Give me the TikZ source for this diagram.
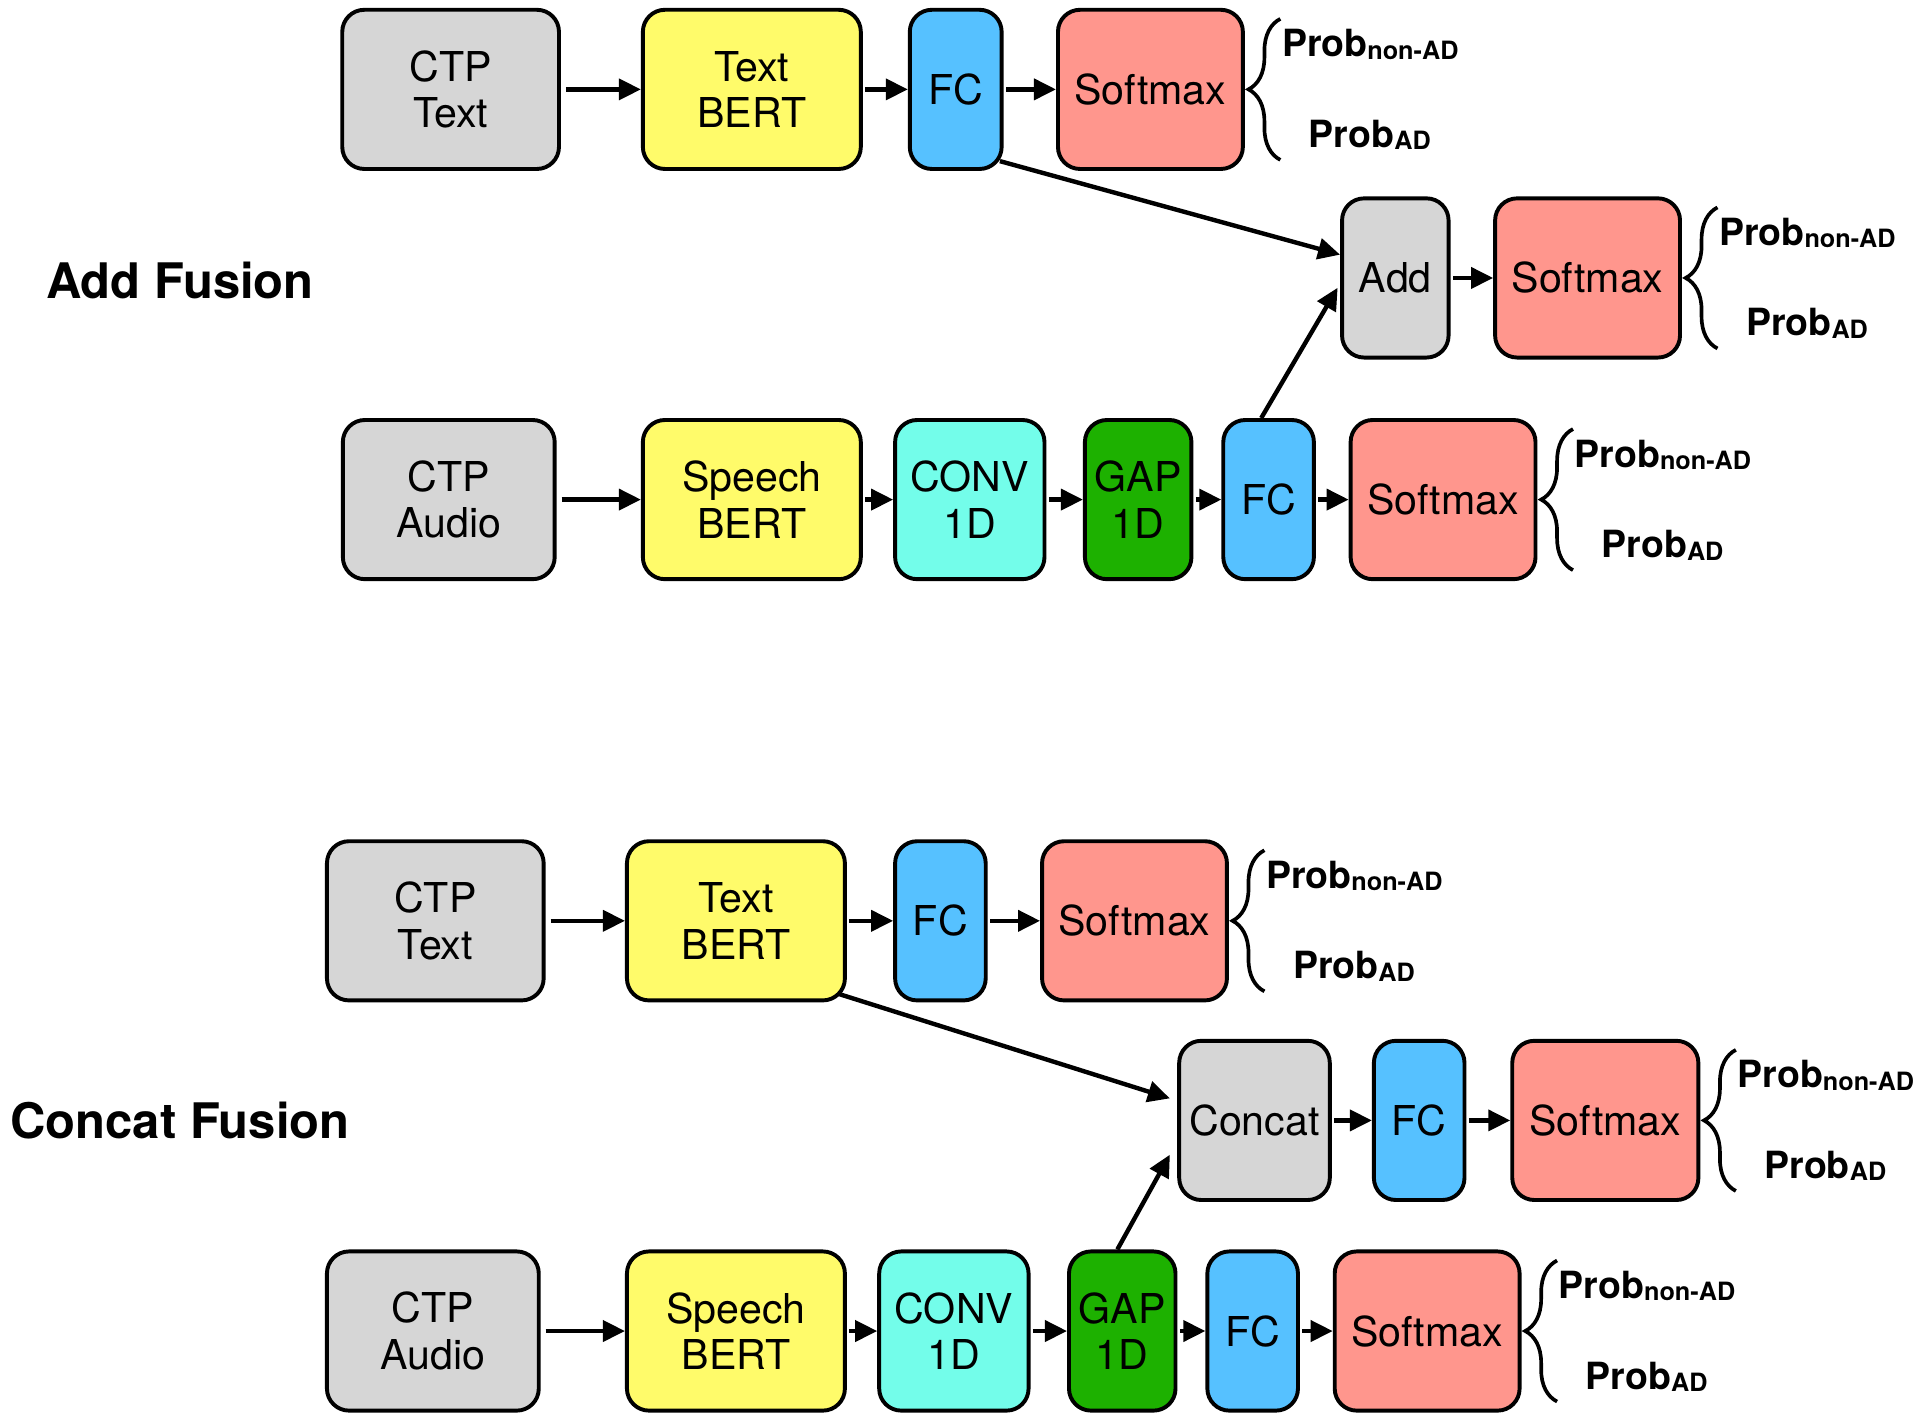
\documentclass[tikz,border=0pt]{standalone}
\usepackage{fontspec}
\setmainfont{TeX Gyre Heros}
\usetikzlibrary{arrows.meta,calc,decorations.pathreplacing}
\definecolor{cgray}{HTML}{D6D6D6}
\definecolor{cyel}{HTML}{FFFB6A}
\definecolor{cblue}{HTML}{56C1FF}
\definecolor{csoft}{HTML}{FF968D}
\definecolor{ccyan}{HTML}{73FDEA}
\definecolor{cgreen}{HTML}{1DB100}
\newcommand\probs[2]{%
  \draw[line width=1.5pt, decorate, decoration={brace, amplitude=13pt}]
    ($(#1.south east)+(29,-9)$) -- ($(#1.north east)+(29,9)$);
  \node[problabel] (#2n) at ($(#1.north east)+(30,40)$) {Prob\raisebox{-1pt}{\fontsize{10.3}{10}\selectfont non-AD}};
  \node[problabel] (#2a) at ($(#1.north east)+(52,114)$) {Prob\raisebox{-1pt}{\fontsize{10.3}{10}\selectfont AD}};
}
\begin{document}
\begin{tikzpicture}[x=0.5pt,y=-0.5pt,
  blk/.style={draw=black, line width=1.6pt, rounded corners=9pt, minimum height=65pt,
    inner sep=0pt, align=center, font=\fontsize{16.8}{19}\selectfont},
  arr/.style={line width=1.8pt, -{Triangle[length=9pt,width=8.5pt]}, shorten <=1pt},
  problabel/.style={anchor=base west, inner sep=0pt, font=\bfseries\fontsize{15.3}{15}\selectfont},
  title/.style={font=\bfseries\fontsize{20}{20}\selectfont, inner sep=0pt}
]
\useasboundingbox (0,0) rectangle (1568,1160);

% ---------- Add Fusion ----------
\node[title] (t1) at (147,229) {Add Fusion};
\node[blk, fill=cgray, minimum width=88.5pt] (a1) at (368,73) {CTP\\Text};
\node[blk, fill=cyel, minimum width=89pt] (a2) at (614,73) {Text\\BERT};
\node[blk, fill=cblue, minimum width=37.5pt] (a3) at (780.5,73) {FC};
\node[blk, fill=csoft, minimum width=75.5pt] (a4) at (939.5,73) {Softmax};
\node[blk, fill=cgray, minimum width=43.5pt] (add) at (1139.5,227) {Add};
\node[blk, fill=csoft, minimum width=75.5pt] (a5) at (1296.5,227) {Softmax};
\node[blk, fill=cgray, minimum width=86.5pt] (b1) at (366.5,408) {CTP\\Audio};
\node[blk, fill=cyel, minimum width=89pt] (b2) at (614,408) {Speech\\BERT};
\node[blk, fill=ccyan, minimum width=61pt] (b3) at (792,408) {CONV\\1D};
\node[blk, fill=cgreen, minimum width=43.5pt] (b4) at (929.5,408) {GAP\\1D};
\node[blk, fill=cblue, minimum width=37pt] (b5) at (1036,408) {FC};
\node[blk, fill=csoft, minimum width=75.5pt] (b6) at (1178.5,408) {Softmax};

\draw[arr, shorten <=2pt] (a1.east) -- (a2.west);
\draw[arr] (a2.east) -- (a3.west);
\draw[arr] (a3.east) -- (a4.west);
\draw[arr] (add.east) -- (a5.west);
\draw[arr, shorten <=2pt] (b1.east) -- (b2.west);
\draw[arr] (b2.east) -- (b3.west);
\draw[arr] (b3.east) -- (b4.west);
\draw[arr] (b4.east) -- (b5.west);
\draw[arr] (b5.east) -- (b6.west);
\draw[arr, shorten <=0pt] ($(a3.south east)+(-3,-8)$) -- ($(add.west)+(0,-19)$);
\draw[arr, shorten <=0pt] ($(b5.north)+(-6,0)$) -- ($(add.west)+(-2,8)$);

\probs{a4}{pa}
\probs{a5}{pb}
\probs{b6}{pc}

% ---------- Concat Fusion ----------
\node[title] (t2) at (147,915) {Concat Fusion};
\node[blk, fill=cgray, minimum width=88.5pt] (c1) at (355.5,752) {CTP\\Text};
\node[blk, fill=cyel, minimum width=89pt] (c2) at (601,752) {Text\\BERT};
\node[blk, fill=cblue, minimum width=37pt] (c3) at (768,752) {FC};
\node[blk, fill=csoft, minimum width=75.5pt] (c4) at (926.5,752) {Softmax};
\node[blk, fill=cgray, minimum width=61.5pt] (cat) at (1024.5,915) {Concat};
\node[blk, fill=cblue, minimum width=37pt] (c5) at (1159,915) {FC};
\node[blk, fill=csoft, minimum width=76pt] (c6) at (1311,915) {Softmax};
\node[blk, fill=cgray, minimum width=86.5pt] (d1) at (353.5,1087) {CTP\\Audio};
\node[blk, fill=cyel, minimum width=89pt] (d2) at (601,1087) {Speech\\BERT};
\node[blk, fill=ccyan, minimum width=61pt] (d3) at (779,1087) {CONV\\1D};
\node[blk, fill=cgreen, minimum width=43.5pt] (d4) at (916.5,1087) {GAP\\1D};
\node[blk, fill=cblue, minimum width=37pt] (d5) at (1023,1087) {FC};
\node[blk, fill=csoft, minimum width=75.5pt] (d6) at (1165.5,1087) {Softmax};

\draw[arr, shorten <=2pt] (c1.east) -- (c2.west);
\draw[arr] (c2.east) -- (c3.west);
\draw[arr] (c3.east) -- (c4.west);
\draw[arr] (cat.east) -- (c5.west);
\draw[arr] (c5.east) -- (c6.west);
\draw[arr, shorten <=2pt] (d1.east) -- (d2.west);
\draw[arr] (d2.east) -- (d3.west);
\draw[arr] (d3.east) -- (d4.west);
\draw[arr] (d4.east) -- (d5.west);
\draw[arr] (d5.east) -- (d6.west);
\draw[arr, shorten <=0pt] ($(c2.south east)+(-7,-7)$) -- ($(cat.west)+(-6,-18)$);
\draw[arr, shorten <=0pt] ($(d4.north)+(-4,0)$) -- ($(cat.west)+(-6,28)$);

\probs{c4}{pd}
\probs{c6}{pe}
\probs{d6}{pf}
\end{tikzpicture}
\end{document}
